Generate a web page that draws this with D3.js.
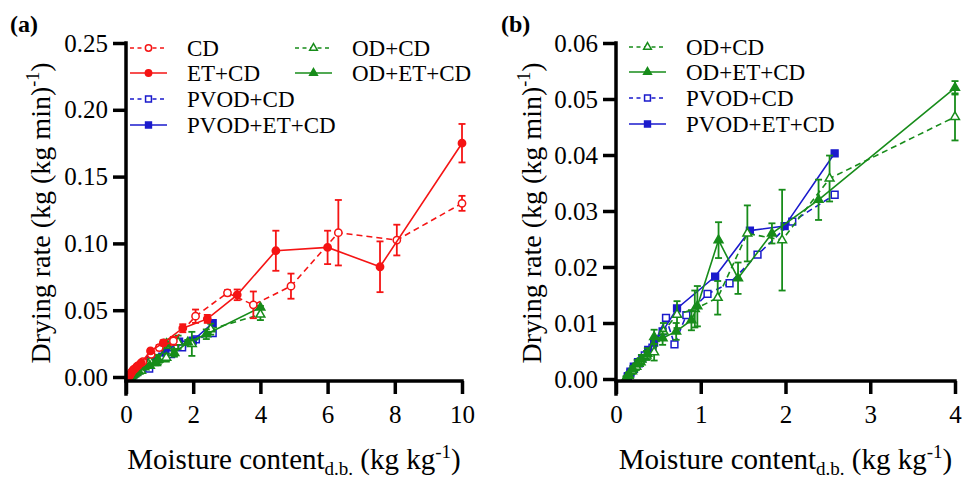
<!DOCTYPE html>
<html>
<head>
<meta charset="utf-8">
<script src="https://cdn.jsdelivr.net/npm/d3@7"></script>
<style>
body { margin: 0; background: #fff; }
text { font-family: "Liberation Serif", "Times New Roman", serif; fill: #000; }
</style>
</head>
<body>
<div id="container"></div>
<script>
// [moisture content, drying rate, sd]
const CD = [[10.0,0.130,0.0056],[8.06,0.1025,0.0115],[6.32,0.108,0.0245],[4.91,0.068,0.0094],[3.79,0.054,0.010],
  [3.02,0.063,0.002],[2.07,0.0455,0.005],[1.41,0.027,0.003],[0.99,0.022,0.002],[0.75,0.017,0.0015],[0.5,0.0115,0.001],
  [0.36,0.0085,0.001],[0.26,0.006,0.0008],[0.18,0.004,0.0006],[0.13,0.002,0.0004],[0.1,0.0008,0.0003]];
const ET_CD = [[10.0,0.175,0.0144],[7.56,0.0825,0.019],[6.0,0.097,0.0125],[4.46,0.0945,0.015],[3.31,0.0615,0.004],
  [2.42,0.0435,0.003],[1.69,0.0365,0.003],[1.11,0.0255,0.002],[0.73,0.0195,0.0015],[0.45,0.0105,0.001],
  [0.32,0.0078,0.0008],[0.22,0.0055,0.0006],[0.16,0.0035,0.0005],[0.12,0.0018,0.0004],[0.09,0.0006,0.0003]];
const PVOD_CD = [[2.58,0.0329,0],[2.08,0.0281,0],[1.67,0.0222,0],[1.34,0.0171,0],[1.08,0.0152,0],[0.83,0.0114,0],
  [0.69,0.0062,0],[0.59,0.0109,0],[0.43,0.0056,0],[0.34,0.0042,0],[0.27,0.0028,0],[0.21,0.0018,0],[0.17,0.001,0],[0.14,0.0003,0]];
const PVOD_ET_CD = [[2.58,0.0403,0],[1.99,0.0273,0],[1.58,0.0265,0],[1.17,0.0183,0],[0.72,0.0126,0],[0.55,0.0085,0],
  [0.45,0.0065,0],[0.38,0.0052,0],[0.31,0.0037,0],[0.26,0.003,0],[0.21,0.0022,0],[0.17,0.0013,0],[0.14,0.0005,0]];
const OD_CD = [[4.0,0.0468,0.0042],[2.52,0.0358,0.0041],[1.96,0.0248,0.009],[1.55,0.026,0.005],[1.2,0.0145,0.003],
  [0.93,0.0125,0.0033],[0.72,0.0115,0.0024],[0.56,0.0085,0.0015],[0.45,0.0048,0.0015],[0.36,0.0042,0.0008],
  [0.29,0.003,0.0007],[0.24,0.0022,0.0006],[0.19,0.0014,0.0005],[0.15,0.0006,0.0004],[0.12,0.0001,0.0003]];
const OD_ET_CD = [[4.0,0.052,0.0012],[2.39,0.032,0.0036],[1.84,0.026,0.0018],[1.44,0.018,0.0028],[1.21,0.0248,0.0032],
  [0.96,0.013,0.0036],[0.89,0.0105,0.0018],[0.71,0.0085,0.0015],[0.55,0.0073,0.0012],[0.45,0.0075,0.0013],
  [0.37,0.0045,0.001],[0.3,0.0035,0.0008],[0.25,0.0028,0.0006],[0.2,0.0018,0.0005],[0.15,0.0008,0.0004],[0.12,0.0002,0.0003]];

const xTicksA = [0, 2, 4, 6, 8, 10];
const yTicksA = [0, 0.05, 0.10, 0.15, 0.20, 0.25];
const xTicksB = [0, 1, 2, 3, 4];
const yTicksB = [0, 0.01, 0.02, 0.03, 0.04, 0.05, 0.06];

const red = '#f51414', blue = '#1a1acc', green = '#178c1a';

const series = {
  'CD':          { data: CD,         color: red,   dash: true,  shape: 'circle',   filled: false },
  'ET+CD':       { data: ET_CD,      color: red,   dash: false, shape: 'circle',   filled: true },
  'PVOD+CD':     { data: PVOD_CD,    color: blue,  dash: true,  shape: 'square',   filled: false },
  'PVOD+ET+CD':  { data: PVOD_ET_CD, color: blue,  dash: false, shape: 'square',   filled: true },
  'OD+CD':       { data: OD_CD,      color: green, dash: true,  shape: 'triangle', filled: false },
  'OD+ET+CD':    { data: OD_ET_CD,   color: green, dash: false, shape: 'triangle', filled: true }
};

const symType = { circle: d3.symbolCircle, square: d3.symbolSquare, triangle: d3.symbolTriangle };
const symSize = { circle: 42, square: 46, triangle: 34 };

const svg = d3.select('#container')
  .append('svg')
  .attr('width', 968)
  .attr('height', 481);

function drawPanel(p) {
  const x = d3.scaleLinear().domain(p.xDomain).range(p.xRange);
  const y = d3.scaleLinear().domain(p.yDomain).range(p.yRange);
  const g = svg.append('g');
  const axisY = p.axisY, tick = 13;

  // data
  p.order.forEach(name => {
    const s = series[name];
    const data = s.data.slice().sort((a, b) => a[0] - b[0]);
    const sg = g.append('g');
    sg.append('path')
      .datum(data)
      .attr('fill', 'none')
      .attr('stroke', s.color)
      .attr('stroke-width', 1.6)
      .attr('stroke-dasharray', s.dash ? '6,4' : null)
      .attr('d', d3.line().x(d => x(d[0])).y(d => y(d[1])));

    const eb = sg.selectAll('.eb').data(data.filter(d => d[2] > 0)).enter().append('g');
    eb.append('line')
      .attr('x1', d => x(d[0])).attr('x2', d => x(d[0]))
      .attr('y1', d => y(d[1] - d[2])).attr('y2', d => y(d[1] + d[2]));
    eb.append('line')
      .attr('x1', d => x(d[0]) - 3.5).attr('x2', d => x(d[0]) + 3.5)
      .attr('y1', d => y(d[1] - d[2])).attr('y2', d => y(d[1] - d[2]));
    eb.append('line')
      .attr('x1', d => x(d[0]) - 3.5).attr('x2', d => x(d[0]) + 3.5)
      .attr('y1', d => y(d[1] + d[2])).attr('y2', d => y(d[1] + d[2]));
    eb.selectAll('line').attr('stroke', s.color).attr('stroke-width', 1.8);

    sg.selectAll('.m').data(data).enter().append('path')
      .attr('transform', d => `translate(${x(d[0])},${y(d[1])})`)
      .attr('d', d3.symbol().type(symType[s.shape]).size(symSize[s.shape]))
      .attr('fill', s.filled ? s.color : '#fff')
      .attr('stroke', s.color)
      .attr('stroke-width', 1.5);
  });

  // axes
  const xa = g.append('g')
    .attr('transform', `translate(0,${axisY})`)
    .call(d3.axisBottom(x).tickValues(p.xTicks).tickFormat(d3.format('d')).tickSize(tick).tickPadding(11).tickSizeOuter(0));
  const ya = g.append('g')
    .attr('transform', `translate(${p.xRange[0]},0)`)
    .call(d3.axisLeft(y).tickValues(p.yTicks).tickFormat(d3.format('.2f')).tickSize(tick).tickPadding(5).tickSizeOuter(0));
  [xa, ya].forEach(a => {
    a.attr('font-family', null).attr('font-size', null);
    a.select('.domain').remove();
    a.selectAll('.tick line').attr('stroke', '#000').attr('stroke-width', 3.5);
    a.selectAll('.tick text').style('font-size', '25px');
  });
  g.append('line')
    .attr('x1', p.xRange[0]).attr('x2', p.xRange[1])
    .attr('y1', axisY).attr('y2', axisY)
    .attr('stroke', '#000').attr('stroke-width', 3.5).attr('stroke-linecap', 'square');
  g.append('line')
    .attr('x1', p.xRange[0]).attr('x2', p.xRange[0])
    .attr('y1', p.yRange[1]).attr('y2', axisY + tick)
    .attr('stroke', '#000').attr('stroke-width', 3.5).attr('stroke-linecap', 'square');

  // axis titles
  const xl = g.append('text')
    .attr('x', (p.xRange[0] + p.xRange[1]) / 2)
    .attr('y', 469)
    .attr('text-anchor', 'middle')
    .style('font-size', '29px');
  xl.append('tspan').text('Moisture content');
  xl.append('tspan').attr('dy', 6).style('font-size', '19px').text('d.b.');
  xl.append('tspan').attr('dy', -6).text(' (kg kg');
  xl.append('tspan').attr('dy', -11).style('font-size', '19px').text('-1');
  xl.append('tspan').attr('dy', 11).text(')');

  const yl = g.append('text')
    .attr('transform', `translate(${p.yLabelX},213) rotate(-90)`)
    .attr('text-anchor', 'middle')
    .style('font-size', '28px');
  yl.append('tspan').text('Drying rate (kg (kg min)');
  yl.append('tspan').attr('dy', -11).style('font-size', '18px').text('-1');
  yl.append('tspan').attr('dy', 11).text(')');

  g.append('text')
    .attr('x', p.tagX).attr('y', 32)
    .style('font-size', '24px').style('font-weight', 'bold')
    .text(p.tag);

  // legend
  p.legend.forEach(e => {
    const s = series[e.name];
    const lg = g.append('g');
    lg.append('line')
      .attr('x1', e.x).attr('x2', e.x + 37)
      .attr('y1', e.y).attr('y2', e.y)
      .attr('stroke', s.color).attr('stroke-width', 1.6)
      .attr('stroke-dasharray', s.dash ? '4,3.5' : null);
    lg.append('path')
      .attr('transform', `translate(${e.x + 18.5},${e.y})`)
      .attr('d', d3.symbol().type(symType[s.shape]).size(symSize[s.shape] * 0.75))
      .attr('fill', s.filled ? s.color : '#fff')
      .attr('stroke', s.color).attr('stroke-width', 1.5);
    lg.append('text')
      .attr('x', e.x + 57).attr('y', e.y)
      .attr('dy', '0.35em')
      .style('font-size', '23px')
      .text(e.name);
  });
}

drawPanel({
  tag: '(a)', tagX: 10, yLabelX: 50,
  xDomain: [0, 10], xRange: [126, 462],
  yDomain: [0, 0.25], yRange: [377, 43],
  axisY: 381,
  xTicks: xTicksA, yTicks: yTicksA,
  order: ['PVOD+CD', 'PVOD+ET+CD', 'OD+CD', 'OD+ET+CD', 'CD', 'ET+CD'],
  legend: [
    { name: 'CD', x: 130, y: 48 }, { name: 'ET+CD', x: 130, y: 73 },
    { name: 'PVOD+CD', x: 130, y: 99 }, { name: 'PVOD+ET+CD', x: 130, y: 125 },
    { name: 'OD+CD', x: 295, y: 48 }, { name: 'OD+ET+CD', x: 295, y: 73 }
  ]
});

drawPanel({
  tag: '(b)', tagX: 501, yLabelX: 541,
  xDomain: [0, 4], xRange: [616, 955],
  yDomain: [0, 0.06], yRange: [379, 43],
  axisY: 381,
  xTicks: xTicksB, yTicks: yTicksB,
  order: ['PVOD+CD', 'PVOD+ET+CD', 'OD+CD', 'OD+ET+CD'],
  legend: [
    { name: 'OD+CD', x: 629, y: 47 }, { name: 'OD+ET+CD', x: 629, y: 72 },
    { name: 'PVOD+CD', x: 629, y: 98 }, { name: 'PVOD+ET+CD', x: 629, y: 124 }
  ]
});
</script>
</body>
</html>
